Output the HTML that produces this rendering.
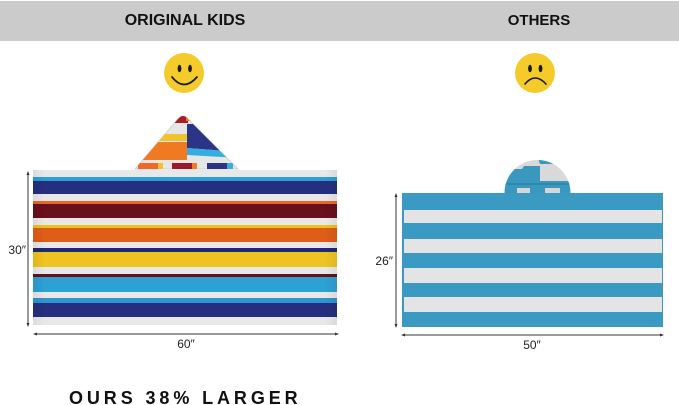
<!DOCTYPE html>
<html>
<head>
<meta charset="utf-8">
<style>
  html, body { margin:0; padding:0; background:#fff; }
  body { width:679px; height:405px; overflow:hidden; position:relative; }
  svg { position:absolute; left:0; top:0; }
  text { font-family:"Liberation Sans", "DejaVu Sans", sans-serif; }
</style>
</head>
<body>
<svg width="679" height="405" viewBox="0 0 679 405" xmlns="http://www.w3.org/2000/svg">
  <defs>
    <clipPath id="hoodL">
      <path d="M135,169 L178,119 Q183,113 188,119 L238,169 Z"/>
    </clipPath>
    <clipPath id="hoodR">
      <path d="M504.5,193 A33,33 0 0 1 570.5,193 Z"/>
    </clipPath>
    <linearGradient id="shadeL" x1="0" y1="0" x2="1" y2="0">
      <stop offset="0" stop-color="#000" stop-opacity="0.06"/>
      <stop offset="0.04" stop-color="#000" stop-opacity="0"/>
      <stop offset="0.96" stop-color="#000" stop-opacity="0"/>
      <stop offset="1" stop-color="#000" stop-opacity="0.06"/>
    </linearGradient>
  </defs>

  <!-- header bar -->
  <rect x="0" y="1" width="679" height="40" fill="#cbcbcb"/>
  <text x="185" y="25" font-size="16" font-weight="bold" fill="#111" text-anchor="middle">ORIGINAL KIDS</text>
  <text x="539" y="25" font-size="15" font-weight="bold" fill="#111" text-anchor="middle">OTHERS</text>

  <!-- smiley -->
  <circle cx="184" cy="73" r="20" fill="#f5cb2c"/>
  <ellipse cx="179.5" cy="68.5" rx="1.9" ry="3.8" fill="#1a1a1a"/>
  <ellipse cx="190" cy="68.5" rx="1.9" ry="3.8" fill="#1a1a1a"/>
  <path d="M172,77 Q184,92 197,77" fill="none" stroke="#1a1a1a" stroke-width="1.8" stroke-linecap="round"/>

  <!-- frown -->
  <circle cx="535" cy="73" r="20" fill="#f5cb2c"/>
  <ellipse cx="530" cy="68.5" rx="1.9" ry="3.8" fill="#1a1a1a"/>
  <ellipse cx="540.5" cy="68.5" rx="1.9" ry="3.8" fill="#1a1a1a"/>
  <path d="M525,84 Q535,72 546,84" fill="none" stroke="#1a1a1a" stroke-width="1.6" stroke-linecap="round"/>

  <!-- LEFT hood -->
  <path d="M135,169 L178,119 Q183,113 188,119 L238,169 Z" fill="#e6e6e6" stroke="#d2d2d2" stroke-width="1"/>
  <g clip-path="url(#hoodL)">
    <rect x="170" y="113" width="18" height="10" fill="#a81d2c"/>
    <rect x="186" y="113" width="6" height="8" fill="#f07a22"/>
    <rect x="150" y="134" width="37" height="7" fill="#f1c22a"/>
    <rect x="130" y="142" width="57" height="18" fill="#f07a22"/>
    <path d="M187,124 L240,124 L240,152 L187,148 Z" fill="#2b3486"/>
    <path d="M187,148 L240,152 L240,158 L187,155 Z" fill="#32aee0"/>
    <rect x="138" y="163" width="20" height="6" fill="#ee6a24"/>
    <rect x="158" y="163" width="5" height="6" fill="#f3c02b"/>
    <rect x="172" y="163" width="20" height="6" fill="#9a1a2a"/>
    <rect x="192" y="163" width="5" height="6" fill="#ee7a2a"/>
    <rect x="207" y="163" width="20" height="6" fill="#2b3486"/>
    <rect x="227" y="163" width="6" height="6" fill="#32aee0"/>
  </g>

  <!-- LEFT towel -->
  <g>
    <rect x="33" y="170" width="304" height="155" fill="#e8e8e8"/>
    <rect x="33" y="177" width="304" height="4" fill="#2aa0d6"/>
    <rect x="33" y="181" width="304" height="13" fill="#252f7e"/>
    <rect x="33" y="201" width="304" height="3" fill="#e8672a"/>
    <rect x="33" y="204" width="304" height="14" fill="#6a0f1c"/>
    <rect x="33" y="225" width="304" height="3" fill="#f0c020"/>
    <rect x="33" y="228" width="304" height="14" fill="#de5d18"/>
    <rect x="33" y="248" width="304" height="4" fill="#1f2a70"/>
    <rect x="33" y="252" width="304" height="15" fill="#eec421"/>
    <rect x="33" y="274" width="304" height="3" fill="#6a0f1c"/>
    <rect x="33" y="277" width="304" height="15" fill="#2da0d4"/>
    <rect x="33" y="298" width="304" height="5" fill="#2b96d0"/>
    <rect x="33" y="303" width="304" height="14" fill="#252f7e"/>
    <rect x="33" y="170" width="304" height="155" fill="url(#shadeL)"/>
  </g>

  <!-- LEFT dimensions -->
  <line x1="28" y1="172" x2="28" y2="326" stroke="#333" stroke-width="1"/>
  <path d="M26.5,175 L28,171 L29.5,175 Z M26.5,323 L28,327 L29.5,323 Z" fill="#333"/>
  <text x="26" y="254" font-size="12" fill="#222" text-anchor="end">30″</text>
  <line x1="34" y1="334" x2="338" y2="334" stroke="#333" stroke-width="1"/>
  <path d="M37,332.5 L33,334 L37,335.5 Z M335,332.5 L339,334 L335,335.5 Z" fill="#333"/>
  <text x="186" y="348" font-size="12" fill="#222" text-anchor="middle">60″</text>

  <!-- RIGHT hood -->
  <g clip-path="url(#hoodR)">
    <rect x="500" y="155" width="75" height="40" fill="#d9d9d9"/>
    <path d="M500,169 L522,169 L524,166 L540,166 L540,181 L575,181 L575,195 L500,195 Z" fill="#3a98bf"/>
    <path d="M538,158 L560,158 L562,164 L540,164 Z" fill="#3a98bf"/>
    <rect x="500" y="183" width="75" height="2" fill="#2f88ad"/>
    <rect x="517" y="188" width="13" height="5" fill="#d6d6d6"/>
    <rect x="545" y="188" width="15" height="5" fill="#d6d6d6"/>
  </g>

  <!-- RIGHT towel -->
  <rect x="402" y="193" width="261" height="134" fill="#3a9ac1"/>
  <rect x="404" y="210" width="258" height="13" fill="#e4e4e4"/>
  <rect x="404" y="239" width="258" height="14" fill="#e4e4e4"/>
  <rect x="404" y="268" width="258" height="15" fill="#e4e4e4"/>
  <rect x="404" y="297" width="258" height="15" fill="#e4e4e4"/>

  <!-- RIGHT dimensions -->
  <line x1="396" y1="194" x2="396" y2="327" stroke="#333" stroke-width="1"/>
  <path d="M394.5,197 L396,193 L397.5,197 Z M394.5,324 L396,328 L397.5,324 Z" fill="#333"/>
  <text x="393" y="265" font-size="12" fill="#222" text-anchor="end">26″</text>
  <line x1="402" y1="335" x2="663" y2="335" stroke="#333" stroke-width="1"/>
  <path d="M405,333.5 L401,335 L405,336.5 Z M660,333.5 L664,335 L660,336.5 Z" fill="#333"/>
  <text x="532" y="349" font-size="12" fill="#222" text-anchor="middle">50″</text>

  <!-- bottom caption -->
  <text x="69" y="404" font-size="18" font-weight="bold" fill="#111" letter-spacing="3.9">OURS 38% LARGER</text>
</svg>
</body>
</html>
